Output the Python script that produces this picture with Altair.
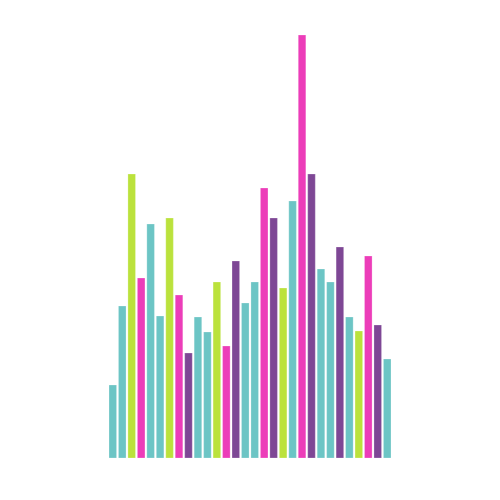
import altair as alt
import pandas as pd

values = [73, 152, 284, 180, 234, 142, 240, 163, 105, 141, 126, 176, 112, 197, 155,
          176, 270, 240, 170, 257, 423, 284, 189, 176, 211, 141, 127, 202, 133, 99]
groups = ["teal", "teal", "lime", "magenta", "teal", "teal", "lime", "magenta", "purple", "teal",
          "teal", "lime", "magenta", "purple", "teal", "teal", "magenta", "purple", "lime", "teal",
          "magenta", "purple", "teal", "teal", "purple", "teal", "lime", "magenta", "purple", "teal"]
palette_names = ["teal", "lime", "magenta", "purple"]
palette_colors = ["#6CC5C5", "#BBE23C", "#EC3DB9", "#7E4795"]

df = pd.DataFrame({"idx": list(range(1, len(values) + 1)), "value": values, "group": groups})

chart = alt.Chart(df).mark_bar(stroke="#ffffff", strokeWidth=0.4, strokeOpacity=0.6).encode(
    x=alt.X("idx:O", axis=None, scale=alt.Scale(paddingInner=0.2, paddingOuter=0)),
    y=alt.Y("value:Q", axis=None, scale=alt.Scale(domain=[0, 450], nice=False)),
    color=alt.Color("group:N", legend=None,
                    scale=alt.Scale(domain=palette_names, range=palette_colors)),
).properties(
    width=282, height=450,
    autosize=alt.AutoSizeParams(type="none"),
    padding={"left": 101, "top": 0, "right": 101, "bottom": 34},
    background="#ffffff",
).configure_view(stroke=None)

chart.save("out.html", embed_options={"renderer": "svg", "actions": False})
